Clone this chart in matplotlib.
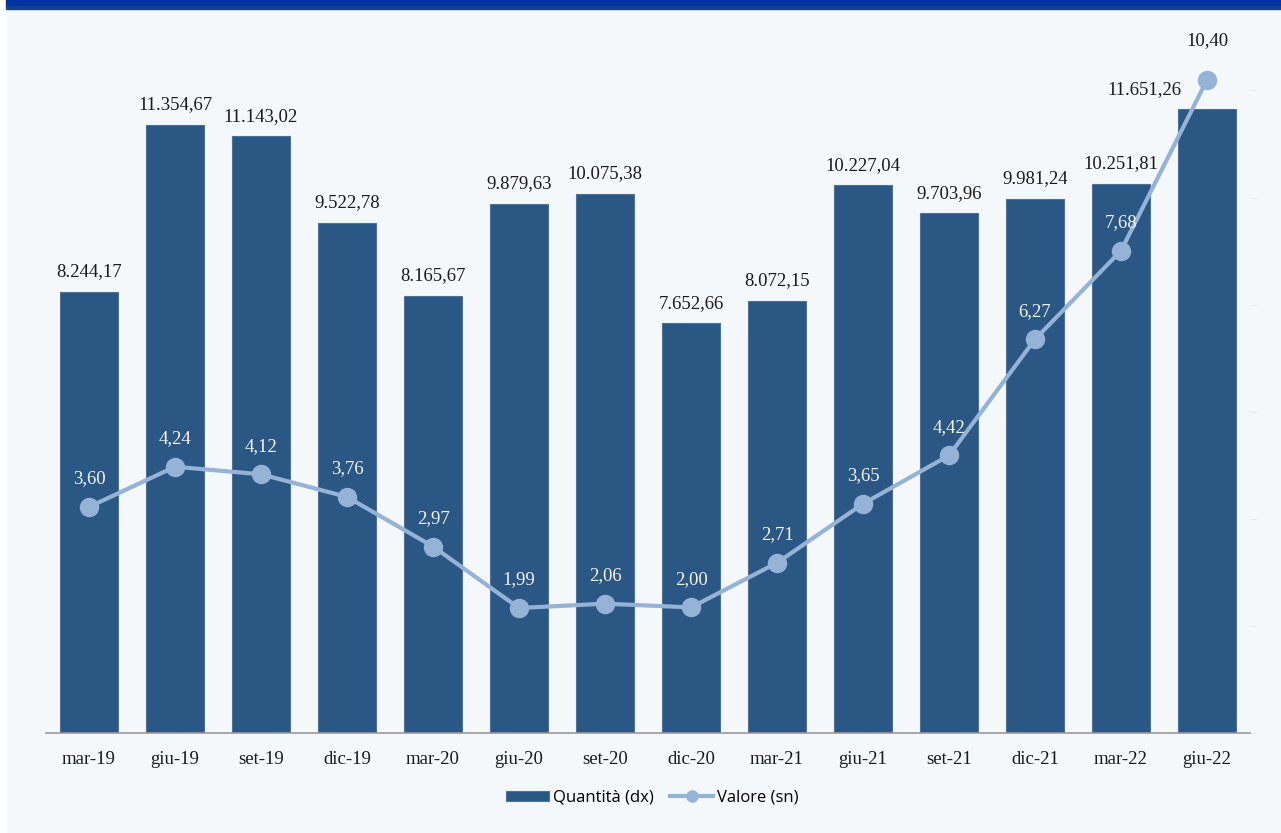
import numpy as np
import matplotlib.pyplot as plt
from matplotlib.patches import Rectangle

periodi = ['mar-19', 'giu-19', 'set-19', 'dic-19', 'mar-20', 'giu-20', 'set-20',
           'dic-20', 'mar-21', 'giu-21', 'set-21', 'dic-21', 'mar-22', 'giu-22']
quantita = [8244.17, 11354.67, 11143.02, 9522.78, 8165.67, 9879.63, 10075.38,
            7652.66, 8072.15, 10227.04, 9703.96, 9981.24, 10251.81, 11651.26]
valore = [3.60, 4.24, 4.12, 3.76, 2.97, 1.99, 2.06,
          2.00, 2.71, 3.65, 4.42, 6.27, 7.68, 10.40]

def fmt_it(v):
    s = f'{v:,.2f}'
    return s.replace(',', 'X').replace('.', ',').replace('X', '.')

W, H = 1281, 833
fig = plt.figure(figsize=(W / 100, H / 100), dpi=100)
fig.patch.set_facecolor('#F4F8FB')

# cornice: striscia bianca a sinistra e banda blu in alto
fig.add_artist(Rectangle((0, 0), 6 / W, 1, transform=fig.transFigure,
                         color='white', zorder=0))
fig.add_artist(Rectangle((6 / W, 1 - 6 / H), 1, 6 / H, transform=fig.transFigure,
                         color='#0033A0', zorder=0))
fig.add_artist(Rectangle((6 / W, 1 - 9 / H), 1, 3 / H, transform=fig.transFigure,
                         color='#183F8E', zorder=0))

x0, x1 = 46, 1250
y_base, y_top = 733, 10
ax = fig.add_axes([x0 / W, 1 - y_base / H, (x1 - x0) / W, (y_base - y_top) / H])
ax2 = ax.twinx()
ax.set_zorder(ax2.get_zorder() + 1)
ax.patch.set_visible(False)

serif = 'Liberation Serif'
fs = 13.5
x = np.arange(len(periodi))
px_q = 608 / 11354.67
px_v = 427 / 6.8

# barre sull'asse destro
ax2.bar(x, quantita, width=0.67, color='#2B5784', edgecolor='#4F729A',
        linewidth=0.8, label='Quantità (dx)')
ax2.set_ylim(0, (y_base - y_top) / px_q)
ax2.set_yticks(np.arange(0, 13000, 2000))
ax2.tick_params(axis='y', length=4, color='#E6EAEE', labelright=False)
for i, q in enumerate(quantita):
    # l'ultima etichetta va a sinistra per non coprire il punto della linea
    dx = -63 if i == len(quantita) - 1 else 0
    ax2.annotate(fmt_it(q), (i, q), xytext=(dx, 20), textcoords='offset pixels',
                 ha='center', va='center', fontsize=fs, family=serif,
                 color='#1A1A1A')

# linea sull'asse sinistro
ax.plot(x, valore, color='#95B3D7', linewidth=3, marker='o', markersize=13,
        label='Valore (sn)')
ax.set_ylim(0, (y_base - y_top) / px_v)
ax.set_xlim(-0.5, len(periodi) - 0.5)
for i, v in enumerate(valore):
    last = i == len(valore) - 1
    ax.annotate(fmt_it(v), (i, v), xytext=(0, 39 if last else 28),
                textcoords='offset pixels', ha='center', va='center',
                fontsize=fs, family=serif,
                color='#1A1A1A' if last else '#F2F2F2')

ax.set_xticks(x)
ax.set_xticklabels(periodi, fontsize=fs, family=serif, color='#1A1A1A')
ax.tick_params(axis='x', length=0, pad=13)
ax.set_yticks([])
for a in (ax, ax2):
    for s in ('top', 'left', 'right', 'bottom'):
        a.spines[s].set_visible(False)
ax.spines['bottom'].set_visible(True)
ax.spines['bottom'].set_color('#9A9A9A')
ax.spines['bottom'].set_linewidth(1.2)

h1, l1 = ax2.get_legend_handles_labels()
h2, l2 = ax.get_legend_handles_labels()
leg = fig.legend(h1 + h2, l1 + l2, loc='center', bbox_to_anchor=(652 / W, 1 - 798 / H),
                 ncol=2, frameon=False, prop={'family': 'Open Sans', 'size': 12},
                 handlelength=2.6, handleheight=0.6, columnspacing=1.0,
                 handletextpad=0.2)
leg.legend_handles[1].set_markersize(8)

fig.savefig('out.png', dpi=100, facecolor=fig.get_facecolor())
